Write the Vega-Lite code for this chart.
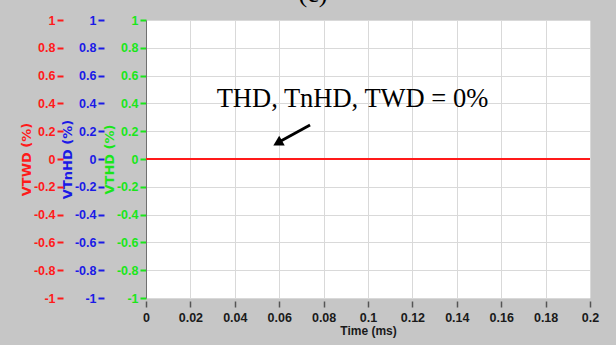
{
  "$schema": "https://vega.github.io/schema/vega-lite/v6.json",
  "width": 444,
  "height": 278,
  "autosize": {"type": "none"},
  "padding": {"left": 146, "top": 20, "right": 26, "bottom": 47},
  "background": "#c6c6c6",
  "title": {"text": "(c)", "font": "Liberation Serif", "fontSize": 26, "fontWeight": "normal", "color": "#000000", "frame": "group", "anchor": "middle", "dx": -55, "offset": 7},
  "config": {
    "view": {"fill": "#ffffff", "stroke": "#8c8c8c", "strokeWidth": 1},
    "axis": {"labelFlush": false, "labelOverlap": false, "labelBound": false, "titleFont": "DejaVu Sans", "titleFontWeight": "bold", "titleFontSize": 13, "labelFont": "Liberation Sans", "labelFontWeight": "bold"}
  },
  "data": {"values": [
    {"time": 0, "VTHD": 0, "VTnHD": 0, "VTWD": 0},
    {"time": 0.2, "VTHD": 0, "VTnHD": 0, "VTWD": 0}
  ]},
  "layer": [
    {
      "mark": {"type": "line", "color": "#1ae61a", "strokeWidth": 2},
      "encoding": {
        "x": {"field": "time", "type": "quantitative", "title": "Time (ms)",
          "scale": {"domain": [0, 0.2], "nice": false, "zero": false},
          "axis": {"orient": "bottom", "offset": 3, "values": [0, 0.02, 0.04, 0.06, 0.08, 0.1, 0.12, 0.14, 0.16, 0.18, 0.2],
            "labelExpr": "'' + datum.value", "domain": false, "tickColor": "#555555", "tickSize": 6, "tickWidth": 1.5,
            "grid": true, "gridColor": "#d9d9d9", "gridWidth": 1,
            "labelColor": "#1a1a1a", "labelFontSize": 12.5, "labelPadding": 4,
            "titleFont": "Liberation Sans", "titleFontSize": 12, "titleColor": "#1a1a1a", "titlePadding": 2}},
        "y": {"field": "VTHD", "type": "quantitative", "title": "VTHD (%)",
          "scale": {"domain": [-1, 1], "nice": false, "zero": false},
          "axis": {"orient": "left", "offset": 0, "values": [-1, -0.8, -0.6, -0.4, -0.2, 0, 0.2, 0.4, 0.6, 0.8, 1],
            "labelExpr": "'' + datum.value", "domain": true, "domainColor": "#707070", "tickColor": "#1ae61a", "tickSize": 6, "tickWidth": 2,
            "grid": true, "gridColor": "#d9d9d9", "gridWidth": 1,
            "labelColor": "#1ae61a", "labelFontSize": 12.5, "labelPadding": 2,
            "titleColor": "#1ae61a", "titlePadding": 0}}
      }
    },
    {
      "mark": {"type": "line", "color": "#1a1ae6", "strokeWidth": 2},
      "encoding": {
        "x": {"field": "time", "type": "quantitative", "title": "Time (ms)", "scale": {"domain": [0, 0.2], "nice": false, "zero": false}},
        "y": {"field": "VTnHD", "type": "quantitative", "title": "VTnHD (%)",
          "scale": {"domain": [-1, 1], "nice": false, "zero": false},
          "axis": {"orient": "left", "offset": 42, "values": [-1, -0.8, -0.6, -0.4, -0.2, 0, 0.2, 0.4, 0.6, 0.8, 1],
            "labelExpr": "'' + datum.value", "domain": false, "tickColor": "#1a1ae6", "tickSize": 6, "tickWidth": 2,
            "grid": false,
            "labelColor": "#1a1ae6", "labelFontSize": 12.5, "labelPadding": 2,
            "titleColor": "#1a1ae6", "titlePadding": 0}}
      }
    },
    {
      "mark": {"type": "line", "color": "#ff1a1a", "strokeWidth": 2},
      "encoding": {
        "x": {"field": "time", "type": "quantitative", "title": "Time (ms)", "scale": {"domain": [0, 0.2], "nice": false, "zero": false}},
        "y": {"field": "VTWD", "type": "quantitative", "title": "VTWD (%)",
          "scale": {"domain": [-1, 1], "nice": false, "zero": false},
          "axis": {"orient": "left", "offset": 83, "values": [-1, -0.8, -0.6, -0.4, -0.2, 0, 0.2, 0.4, 0.6, 0.8, 1],
            "labelExpr": "'' + datum.value", "domain": false, "tickColor": "#ff1a1a", "tickSize": 6, "tickWidth": 2,
            "grid": false,
            "labelColor": "#ff1a1a", "labelFontSize": 12.5, "labelPadding": 2,
            "titleColor": "#ff1a1a", "titlePadding": 0}}
      }
    },
    {
      "data": {"values": [{"time": 0.093, "value": 0.376, "label": "THD, TnHD, TWD = 0%"}]},
      "mark": {"type": "text", "font": "Liberation Serif", "fontSize": 26.5, "color": "#000000", "align": "center", "baseline": "alphabetic"},
      "encoding": {
        "x": {"field": "time", "type": "quantitative", "title": "Time (ms)", "scale": {"domain": [0, 0.2], "nice": false, "zero": false}},
        "y": {"field": "value", "type": "quantitative", "scale": {"domain": [-1, 1], "nice": false, "zero": false}, "axis": null},
        "text": {"field": "label"}
      }
    },
    {
      "data": {"values": [{"time": 0.0739, "value": 0.245, "time2": 0.0595, "value2": 0.118}]},
      "mark": {"type": "rule", "color": "#000000", "strokeWidth": 2.8},
      "encoding": {
        "x": {"field": "time", "type": "quantitative", "title": "Time (ms)", "scale": {"domain": [0, 0.2], "nice": false, "zero": false}},
        "y": {"field": "value", "type": "quantitative", "scale": {"domain": [-1, 1], "nice": false, "zero": false}, "axis": null},
        "x2": {"field": "time2"},
        "y2": {"field": "value2"}
      }
    },
    {
      "data": {"values": [{"time": 0.0593, "value": 0.115}]},
      "mark": {"type": "point", "shape": "triangle-up", "filled": true, "color": "#000000", "opacity": 1, "size": 130, "angle": 241},
      "encoding": {
        "x": {"field": "time", "type": "quantitative", "title": "Time (ms)", "scale": {"domain": [0, 0.2], "nice": false, "zero": false}},
        "y": {"field": "value", "type": "quantitative", "scale": {"domain": [-1, 1], "nice": false, "zero": false}, "axis": null}
      }
    }
  ],
  "resolve": {"scale": {"y": "independent"}, "axis": {"y": "independent"}}
}
